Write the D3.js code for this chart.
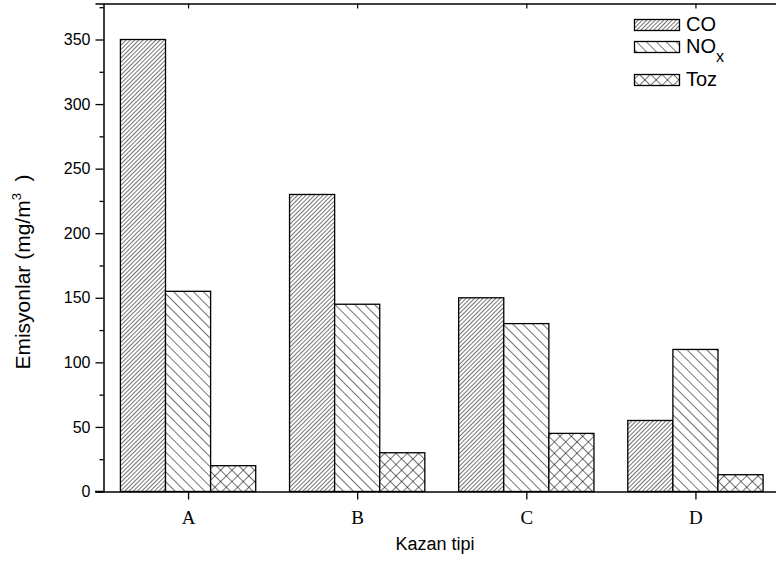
<!DOCTYPE html>
<html>
<head>
  <script src="https://d3js.org/d3.v7.min.js"></script>
  <style>
    body { margin: 0; background: #fff; }
  </style>
</head>
<body>
  <div id="chart"></div>
  <script>
    const categories = ["A", "B", "C", "D"];
    const seriesNames = ["CO", "NOx", "Toz"];
    const coValues = [350, 230, 150, 55];
    const noxValues = [155, 145, 130, 110];
    const tozValues = [20, 30, 45, 13];
    const yTicks = [0, 50, 100, 150, 200, 250, 300, 350];

    const width = 776, height = 562;
    const x0 = 103.5, x1 = 780, yBottom = 491.5, yTop = 3.5;
    const sans = "Arial, 'Liberation Sans', sans-serif";
    const serif = "'Times New Roman', 'Liberation Serif', serif";

    const svg = d3.select("#chart").append("svg")
      .attr("width", width).attr("height", height);

    const defs = svg.append("defs");
    function hatch(id, spacing, angle, cross) {
      const p = defs.append("pattern")
        .attr("id", id)
        .attr("patternUnits", "userSpaceOnUse")
        .attr("width", spacing).attr("height", spacing)
        .attr("patternTransform", `rotate(${angle})`);
      p.append("rect").attr("width", spacing).attr("height", spacing).attr("fill", "#fff");
      p.append("line").attr("x1", 0).attr("y1", 0).attr("x2", 0).attr("y2", spacing)
        .attr("stroke", "#000").attr("stroke-width", 1.1);
      if (cross) {
        p.append("line").attr("x1", 0).attr("y1", 0).attr("x2", spacing).attr("y2", 0)
          .attr("stroke", "#000").attr("stroke-width", 1.1);
      }
    }
    hatch("pCO", 3, 45, false);
    hatch("pNOx", 7, -45, false);
    hatch("pToz", 8, 45, true);
    const fills = ["url(#pCO)", "url(#pNOx)", "url(#pToz)"];

    const x = d3.scaleBand().domain(categories).range([x0, x1]).paddingInner(0.2).paddingOuter(0.1);
    const xs = d3.scaleBand().domain(seriesNames).range([0, x.bandwidth()]);
    const y = d3.scaleLinear().domain([0, (yBottom - yTop) / ((yBottom - 39.5) / 350)]).range([yBottom, yTop]);
    const xc = d3.scalePoint().domain(categories).range([x0, x1]).padding(0.5);

    const table = categories.map((c, i) => ({
      cat: c, vals: [coValues[i], noxValues[i], tozValues[i]]
    }));

    // bars
    const g = svg.append("g");
    table.forEach(d => {
      d.vals.forEach((v, j) => {
        g.append("rect")
          .attr("x", x(d.cat) + xs(seriesNames[j]))
          .attr("y", y(v))
          .attr("width", xs.bandwidth())
          .attr("height", y(0) - y(v))
          .attr("fill", fills[j])
          .attr("stroke", "#000")
          .attr("stroke-width", 1.3);
      });
    });

    // y axis
    const yAxis = svg.append("g").attr("transform", `translate(${x0},0)`)
      .call(d3.axisLeft(y).tickValues(yTicks).tickSize(8).tickPadding(5));
    yAxis.select(".domain").attr("stroke-width", 1.5);
    yAxis.selectAll(".tick line").attr("stroke-width", 1.3);
    yAxis.selectAll("text").style("font-size", "16px").style("font-family", sans);
    svg.append("g").attr("transform", `translate(${x0},0)`)
      .call(d3.axisLeft(y).tickValues(d3.range(25, 376, 50)).tickSize(4).tickFormat(""))
      .call(s => s.select(".domain").remove())
      .selectAll("line").attr("stroke-width", 1.3);

    // x axis
    const xAxis = svg.append("g").attr("transform", `translate(0,${yBottom})`)
      .call(d3.axisBottom(xc).tickSize(8).tickPadding(11).tickSizeOuter(0));
    xAxis.select(".domain").attr("stroke-width", 1.5);
    xAxis.selectAll(".tick line").attr("stroke-width", 1.3);
    xAxis.selectAll("text").style("font-size", "19px").style("font-family", serif);
    svg.append("line").attr("x1", 95).attr("x2", x0).attr("y1", yBottom).attr("y2", yBottom)
      .attr("stroke", "#000").attr("stroke-width", 1.5);

    // top axis
    const topAxis = svg.append("g").attr("transform", `translate(0,${yTop})`)
      .call(d3.axisTop(xc).tickSize(-5).tickFormat("").tickSizeOuter(0));
    topAxis.select(".domain").attr("stroke-width", 1.5);
    topAxis.selectAll(".tick line").attr("stroke-width", 1.2);

    // axis titles
    svg.append("text").attr("x", 435).attr("y", 550).attr("text-anchor", "middle")
      .style("font-family", sans).style("font-size", "18px").text("Kazan tipi");
    const yl = svg.append("text").attr("transform", "translate(30,272) rotate(-90)")
      .attr("text-anchor", "middle").style("font-family", sans).style("font-size", "21px");
    yl.append("tspan").text("Emisyonlar (mg/m");
    yl.append("tspan").attr("dy", -9).style("font-size", "13px").text("3");
    yl.append("tspan").attr("dy", 9).text("\u00a0 )");

    // legend
    const legendY = [19.5, 41.5, 74.5];
    const legend = svg.append("g");
    seriesNames.forEach((n, j) => {
      legend.append("rect").attr("x", 634.5).attr("y", legendY[j])
        .attr("width", 45).attr("height", 11)
        .attr("fill", fills[j]).attr("stroke", "#000").attr("stroke-width", 1.3);
      const t = legend.append("text").attr("x", 686).attr("y", legendY[j] + 11.5)
        .style("font-family", sans).style("font-size", "20px");
      if (n === "NOx") {
        t.append("tspan").text("NO");
        t.append("tspan").attr("dy", 9).style("font-size", "16px").text("x");
      } else {
        t.text(n);
      }
    });
  </script>
</body>
</html>
